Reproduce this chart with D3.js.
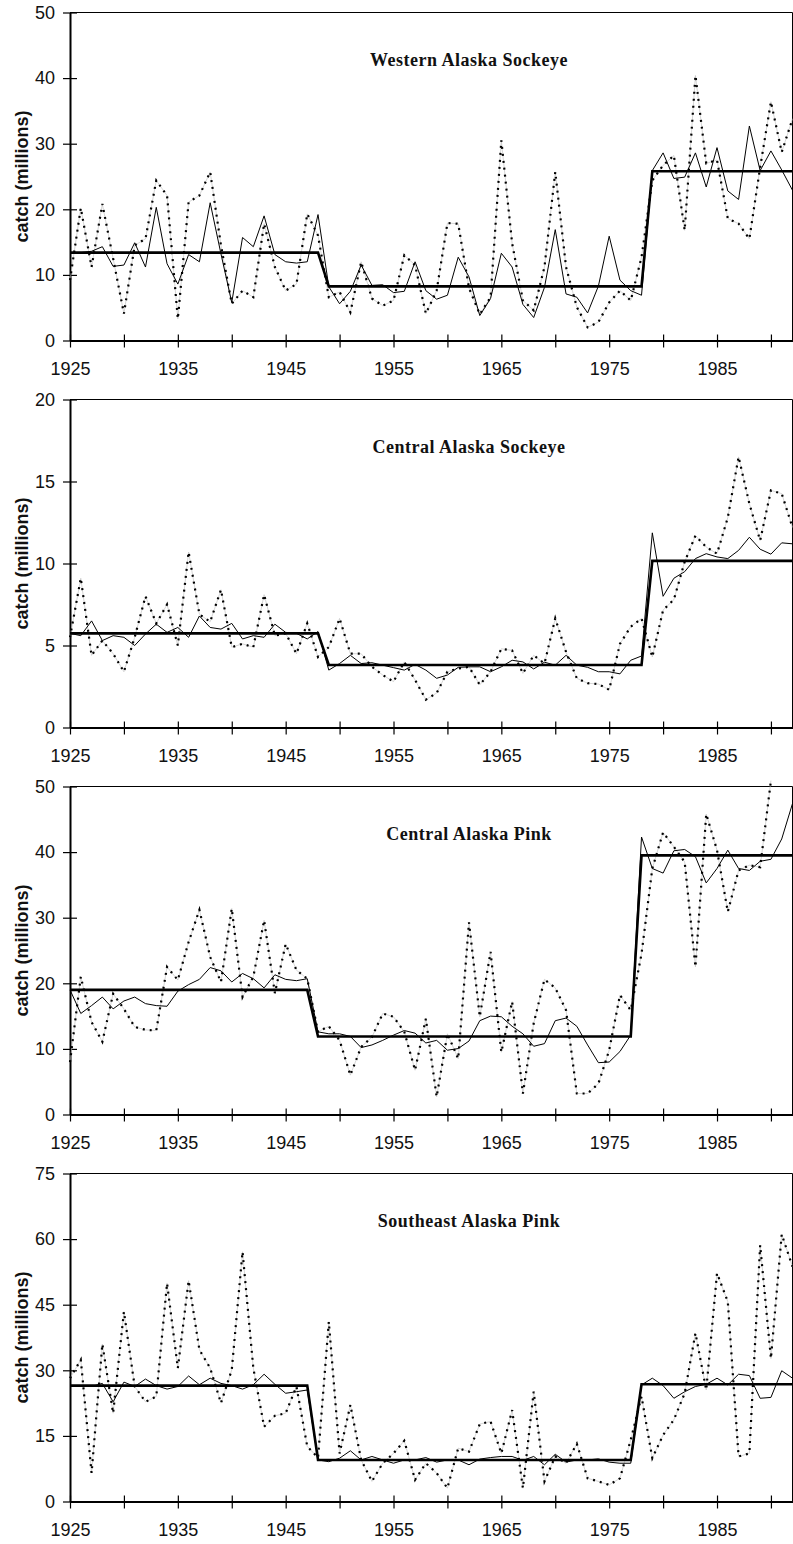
<!DOCTYPE html>
<html>
<head>
<meta charset="utf-8">
<script src="https://cdn.jsdelivr.net/npm/d3@7"></script>
<style>
  body { margin: 0; background: #fff; }
  svg { display: block; }
</style>
</head>
<body>
<div id="chart"></div>
<script>
// years on the x axis, one value per year in every series below
var years = d3.range(1925, 1993);

var titles = ["Western Alaska Sockeye", "Central Alaska Sockeye", "Central Alaska Pink", "Southeast Alaska Pink"];
var yMaxes = [50, 20, 50, 75];
var yTickSteps = [10, 5, 10, 15];
var xTickYears = [1925, 1930, 1935, 1940, 1945, 1950, 1955, 1960, 1965, 1970, 1975, 1980, 1985, 1990];

// ---- Western Alaska Sockeye ----
var wasAnnual = [
  9.2, 20.2, 11.2, 20.8, 12.5, 4.1, 14.5, 15.5, 24.4, 22.1,
  3.3, 21.1, 22.1, 25.7, 14.5, 5.6, 7.6, 6.6, 17.8, 11.2,
  7.6, 8.6, 19.3, 16.0, 6.6, 7.4, 4.3, 12.0, 6.4, 5.3,
  6.1, 13.0, 11.5, 4.1, 7.6, 17.9, 17.8, 8.0, 4.0, 6.6,
  30.5, 14.8, 6.1, 4.6, 11.2, 25.7, 11.2, 5.1, 2.0, 2.8,
  5.8, 7.6, 6.1, 12.7, 24.4, 26.7, 28.2, 16.8, 40.4, 27.0,
  27.5, 18.6, 17.8, 15.5, 26.4, 36.4, 28.7, 33.8];
var wasSmooth = [
  13.4, 13.4, 13.6, 14.3, 11.3, 11.5, 14.9, 11.2, 20.3, 11.7,
  8.6, 13.1, 12.0, 21.0, 13.2, 5.8, 15.7, 14.3, 19.0, 13.1,
  12.0, 11.8, 12.0, 19.2, 8.2, 5.6, 7.5, 11.5, 8.4, 8.5,
  7.3, 7.5, 12.0, 7.6, 6.3, 6.9, 12.7, 9.7, 3.8, 6.4,
  13.3, 11.2, 5.5, 3.5, 8.1, 16.9, 7.1, 6.6, 4.2, 8.3,
  15.9, 9.2, 7.6, 6.9, 25.9, 28.6, 24.7, 24.9, 28.6, 23.4,
  29.4, 22.8, 21.5, 32.7, 25.9, 28.9, 26.0, 22.9];
var wasRegimes = [[1925, 1948, 13.4], [1949, 1978, 8.25], [1979, 1992, 25.8]];

// ---- Central Alaska Sockeye ----
var casAnnual = [
  5.5, 9.1, 4.4, 5.3, 4.5, 3.4, 5.5, 8.0, 6.35, 7.5,
  5.0, 10.7, 6.9, 6.45, 8.4, 4.9, 5.1, 4.9, 8.1, 5.6,
  5.74, 4.5, 6.35, 4.3, 4.9, 6.65, 4.5, 4.5, 3.7, 3.2,
  2.8, 4.0, 2.9, 1.7, 2.1, 3.4, 3.6, 3.7, 2.6, 3.4,
  4.8, 4.7, 3.3, 4.4, 3.9, 6.65, 4.6, 3.0, 2.7, 2.65,
  2.3, 5.1, 6.15, 6.65, 4.3, 7.16, 7.8, 10.1, 11.7, 11.0,
  10.6, 12.8, 16.5, 13.65, 11.4, 14.46, 14.26, 12.2];
var casSmooth = [
  5.74, 5.6, 6.5, 5.3, 5.6, 5.5, 5.0, 5.7, 6.3, 5.8,
  6.1, 5.5, 6.8, 6.1, 6.0, 6.35, 5.4, 5.6, 5.5, 6.3,
  5.8, 5.74, 5.4, 5.85, 3.5, 3.9, 4.4, 3.9, 3.95, 3.8,
  3.65, 3.5, 3.85, 3.5, 3.0, 3.2, 3.67, 3.7, 3.7, 3.4,
  3.7, 4.1, 4.0, 3.57, 3.98, 3.8, 4.4, 3.8, 3.67, 3.4,
  3.4, 3.27, 4.1, 4.36, 11.87, 8.0, 9.1, 9.5, 10.3, 10.6,
  10.4, 10.3, 10.8, 11.6, 10.87, 10.57, 11.26, 11.2];
var casRegimes = [[1925, 1948, 5.74], [1949, 1978, 3.81], [1979, 1992, 10.16]];

// ---- Central Alaska Pink ----
var capAnnual = [
  8.0, 21.0, 14.1, 11.1, 18.4, 16.1, 13.35, 12.9, 12.8, 22.5,
  20.5, 26.3, 31.2, 24.0, 20.2, 31.4, 17.9, 21.0, 29.6, 18.5,
  26.0, 22.0, 20.7, 12.6, 13.45, 11.3, 6.0, 10.3, 11.8, 15.4,
  14.9, 12.6, 6.75, 14.6, 2.7, 12.3, 8.5, 29.3, 14.9, 24.8,
  9.5, 17.2, 3.2, 13.9, 20.6, 19.3, 15.9, 3.2, 3.2, 4.7,
  9.8, 18.2, 15.9, 24.5, 37.5, 43.0, 40.8, 38.5, 22.5, 45.8,
  40.3, 30.9, 37.2, 38.0, 37.7, 50.9, null, null];
var capSmooth = [
  19.0, 15.4, 16.6, 17.9, 16.1, 17.3, 17.9, 16.9, 16.6, 16.5,
  18.8, 19.8, 20.6, 22.4, 21.9, 20.2, 21.5, 20.7, 19.3, 21.3,
  20.6, 20.4, 20.7, 12.6, 12.3, 12.3, 11.9, 10.2, 10.6, 11.3,
  12.1, 12.8, 12.4, 10.9, 11.3, 9.8, 10.05, 11.2, 14.3, 15.0,
  14.9, 13.45, 12.3, 10.4, 10.8, 14.3, 14.7, 13.45, 10.6, 7.9,
  8.0, 9.6, 12.1, 42.3, 37.5, 36.8, 40.2, 40.4, 39.3, 35.3,
  37.5, 40.3, 37.5, 37.2, 38.6, 38.9, 42.0, 47.4];
var capRegimes = [[1925, 1947, 19.0], [1948, 1977, 11.9], [1978, 1992, 39.5]];

// ---- Southeast Alaska Pink ----
var seapAnnual = [
  28.2, 32.4, 6.5, 36.0, 20.2, 43.4, 26.3, 22.8, 24.0, 49.9,
  30.5, 50.5, 34.7, 30.5, 22.5, 30.1, 57.1, 30.5, 17.1, 19.6,
  20.2, 26.3, 12.6, 10.0, 41.1, 11.0, 22.1, 9.5, 4.6, 8.75,
  11.0, 13.9, 4.95, 8.75, 6.5, 3.05, 12.2, 11.4, 17.7, 18.3,
  11.0, 20.9, 3.05, 25.1, 4.6, 10.3, 8.75, 13.2, 5.3, 4.6,
  3.8, 5.3, 14.1, 24.0, 9.9, 15.2, 18.7, 24.75, 38.5, 25.5,
  52.2, 45.7, 10.3, 11.0, 58.6, 32.7, 61.1, 53.7];
var seapSmooth = [
  26.5, 26.5, 26.3, 27.0, 22.8, 27.3, 26.3, 28.0, 26.5, 25.7,
  26.3, 28.7, 26.7, 28.2, 27.0, 26.5, 25.7, 26.7, 29.1, 26.8,
  24.75, 25.1, 25.5, 9.5, 9.1, 9.9, 11.6, 9.5, 10.3, 9.5,
  8.75, 9.5, 9.5, 10.05, 9.0, 9.5, 9.5, 8.4, 9.7, 10.05,
  10.3, 10.3, 9.4, 10.3, 8.4, 10.8, 9.0, 9.5, 9.5, 9.75,
  9.0, 8.75, 8.75, 26.65, 28.2, 26.5, 23.6, 25.1, 26.3, 26.8,
  28.2, 26.65, 29.1, 28.8, 23.6, 23.8, 29.9, 28.2];
var seapRegimes = [[1925, 1947, 26.5], [1948, 1977, 9.5], [1978, 1992, 26.8]];

var annualSeries = [wasAnnual, casAnnual, capAnnual, seapAnnual];
var smoothSeries = [wasSmooth, casSmooth, capSmooth, seapSmooth];
var regimeSeries = [wasRegimes, casRegimes, capRegimes, seapRegimes];

/////////////////////////////////////////////////////////
/////////////////// Layout & scales /////////////////////
/////////////////////////////////////////////////////////

var W = 793, H = 1544;
var left = 70, right = 792.5, plotH = 328;
var panelTops = [12.5, 399.5, 786.5, 1173.5];
var sansFont = "'Liberation Sans', Arial, sans-serif";
var serifFont = "'Liberation Serif', 'Times New Roman', serif";

var svg = d3.select("#chart").append("svg")
  .attr("width", W)
  .attr("height", H)
  .style("background", "#fff");

var x = d3.scaleLinear().domain([1925, 1992]).range([left, right]);

titles.forEach(function(title, i) {
  var y = d3.scaleLinear().domain([0, yMaxes[i]]).range([plotH, 0]);
  var g = svg.append("g").attr("transform", "translate(0," + panelTops[i] + ")");

  //thin top and right frame
  g.append("line").attr("x1", left).attr("x2", right).attr("y1", 0).attr("y2", 0)
    .attr("stroke", "#000").attr("stroke-width", 1);
  g.append("line").attr("x1", right).attr("x2", right).attr("y1", 0).attr("y2", plotH)
    .attr("stroke", "#000").attr("stroke-width", 1);

  //y axis, ticks crossing the axis line
  var yAxis = g.append("g")
    .attr("transform", "translate(" + left + ",0)")
    .call(d3.axisLeft(y)
      .tickValues(d3.range(0, yMaxes[i] + 0.001, yTickSteps[i]))
      .tickSize(7).tickSizeOuter(0).tickPadding(8));
  yAxis.select(".domain").attr("stroke-width", 2);
  yAxis.selectAll(".tick line").attr("x1", 7).attr("stroke-width", 1.2);
  yAxis.selectAll(".tick text")
    .style("font-family", sansFont).style("font-size", "18px").attr("fill", "#111");

  //x axis: ticks every 5 years, labels every 10
  var xAxis = g.append("g")
    .attr("transform", "translate(0," + plotH + ")")
    .call(d3.axisBottom(x)
      .tickValues(xTickYears)
      .tickSize(7).tickSizeOuter(0).tickPadding(15)
      .tickFormat(function(d) { return (d - 1925) % 10 === 0 ? d : ""; }));
  xAxis.select(".domain").attr("stroke-width", 2);
  xAxis.selectAll(".tick line").attr("y1", -6).attr("stroke-width", 1.2);
  xAxis.selectAll(".tick text")
    .style("font-family", sansFont).style("font-size", "18px").attr("fill", "#111");

  //axis title
  g.append("text")
    .attr("transform", "translate(28," + (plotH / 2) + ") rotate(-90)")
    .attr("text-anchor", "middle")
    .style("font-family", sansFont).style("font-size", "18px").style("font-weight", "bold")
    .attr("fill", "#111")
    .text("catch (millions)");

  //panel title
  g.append("text")
    .attr("x", 469).attr("y", 53)
    .attr("text-anchor", "middle")
    .style("font-family", serifFont).style("font-size", "18px").style("font-weight", "bold")
    .style("letter-spacing", "0.5px")
    .attr("fill", "#111")
    .text(title);

  var line = d3.line()
    .defined(function(d) { return d[1] != null; })
    .x(function(d) { return x(d[0]); })
    .y(function(d) { return y(d[1]); });

  var annual = years.map(function(yr, j) { return [yr, annualSeries[i][j]]; });
  var smooth = years.map(function(yr, j) { return [yr, smoothSeries[i][j]]; });
  var steps = [];
  regimeSeries[i].forEach(function(r) { steps.push([r[0], r[2]], [r[1], r[2]]); });

  //annual catch: faint grey line under black dots
  g.append("path").attr("d", line(annual))
    .attr("fill", "none").attr("stroke", "#bbb").attr("stroke-width", 0.6);
  g.append("path").attr("d", line(annual))
    .attr("fill", "none").attr("stroke", "#000").attr("stroke-width", 2.2)
    .attr("stroke-dasharray", "2,5");

  //thin solid series
  g.append("path").attr("d", line(smooth))
    .attr("fill", "none").attr("stroke", "#000").attr("stroke-width", 1)
    .attr("stroke-linejoin", "round");

  //regime means
  g.append("path").attr("d", line(steps))
    .attr("fill", "none").attr("stroke", "#000").attr("stroke-width", 2.6);
});
</script>
</body>
</html>
